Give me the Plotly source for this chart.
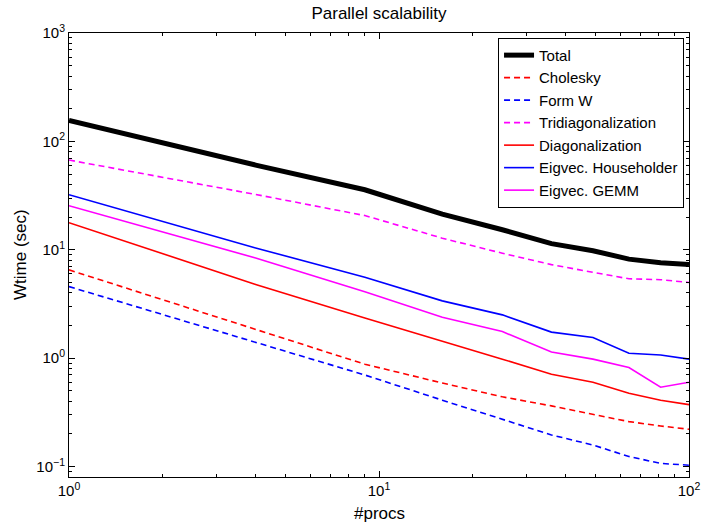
import plotly.graph_objects as go

procs = [1, 4, 9, 16, 25, 36, 49, 64, 81, 100]

total = [156, 60.5, 35.8, 21.3, 15.3, 11.4, 9.8, 8.2, 7.6, 7.3]
cholesky = [6.53, 1.84, 0.88, 0.59, 0.44, 0.363, 0.304, 0.26, 0.237, 0.221]
form_w = [4.58, 1.40, 0.70, 0.41, 0.273, 0.196, 0.158, 0.124, 0.107, 0.103]
tridiag = [67.3, 32.4, 20.7, 12.8, 9.3, 7.3, 6.2, 5.4, 5.3, 5.0]
diagonal = [17.8, 4.79, 2.35, 1.44, 0.98, 0.71, 0.60, 0.475, 0.41, 0.373]
eig_hh = [32.2, 10.4, 5.58, 3.38, 2.51, 1.74, 1.55, 1.11, 1.07, 0.98]
eig_gemm = [25.5, 8.4, 4.11, 2.39, 1.76, 1.14, 0.98, 0.82, 0.54, 0.60]

series = [
    ("Total", total, "#000000", "solid", 5),
    ("Cholesky", cholesky, "#ff0000", "6px,4px", 1.6),
    ("Form W", form_w, "#0000ff", "6px,4px", 1.6),
    ("Tridiagonalization", tridiag, "#ff00ff", "6px,4px", 1.6),
    ("Diagonalization", diagonal, "#ff0000", "solid", 1.6),
    ("Eigvec. Householder", eig_hh, "#0000ff", "solid", 1.6),
    ("Eigvec. GEMM", eig_gemm, "#ff00ff", "solid", 1.6),
]

fig = go.Figure()
for name, vals, color, dash, w in series:
    fig.add_trace(go.Scatter(x=procs, y=vals, mode="lines", name=name,
                             line=dict(color=color, dash=dash, width=w)))

font = "Liberation Sans, Arial, Helvetica, sans-serif"

x_major = [1, 10, 100]
x_text = ["10<sup>0</sup>", "10<sup>1</sup>", "10<sup>2</sup>"]
y_major = [0.1, 1, 10, 100, 1000]
y_text = ["10<sup>\u22121</sup>", "10<sup>0</sup>", "10<sup>1</sup>", "10<sup>2</sup>", "10<sup>3</sup>"]

x_minor = [m * d for d in [1, 10] for m in range(2, 10)]
y_minor = [m * d for d in [0.01, 0.1, 1, 10, 100] for m in range(2, 10)]

axis_common = dict(
    type="log", showgrid=False, zeroline=False, automargin=False,
    showline=True, linecolor="black", linewidth=1, mirror="allticks",
    ticks="inside", ticklen=6, tickcolor="black", tickwidth=1,
    tickfont=dict(family=font, size=15, color="black"),
    tickmode="array",
)

W, H = 703, 523
ML, MR, MT, MB = 69, 14, 33, 46
plot_w = W - ML - MR
plot_h = H - MT - MB

fig.update_layout(
    width=W, height=H,
    margin=dict(l=ML, r=MR, t=MT, b=MB),
    paper_bgcolor="white", plot_bgcolor="white",
    font=dict(family=font, color="black", size=16),
    title=dict(text="Parallel scalability", x=0.5, xref="paper", xanchor="center",
               y=1 - 13 / H, yanchor="middle",
               font=dict(family=font, size=17, color="black")),
    xaxis=dict(axis_common, range=[0, 2], tickvals=x_major, ticktext=x_text,
               minor=dict(tickmode="array", tickvals=x_minor, ticks="inside",
                          ticklen=3, tickcolor="black")),
    yaxis=dict(axis_common, range=[-1.096, 3], tickvals=y_major, ticktext=y_text,
               minor=dict(tickmode="array", tickvals=y_minor, ticks="inside",
                          ticklen=3, tickcolor="black")),
    legend=dict(x=0.992, y=0.989, xanchor="right", yanchor="top",
                bgcolor="white", bordercolor="black", borderwidth=1,
                font=dict(family=font, size=15, color="black"),
                tracegroupgap=0, itemwidth=30),
    showlegend=True,
    annotations=[
        dict(text="#procs", xref="paper", yref="paper", x=0.5,
             y=-(513 - (H - MB)) / plot_h, xanchor="center", yanchor="middle",
             showarrow=False, font=dict(family=font, size=17, color="black")),
        dict(text="Wtime (sec)", xref="paper", yref="paper",
             x=(20 - ML) / plot_w, y=0.5, xanchor="center", yanchor="middle",
             textangle=-90, showarrow=False,
             font=dict(family=font, size=17, color="black")),
    ],
)

fig.write_html("out.html", config={"displayModeBar": False},
               post_script="document.body.style.margin='0px';")
